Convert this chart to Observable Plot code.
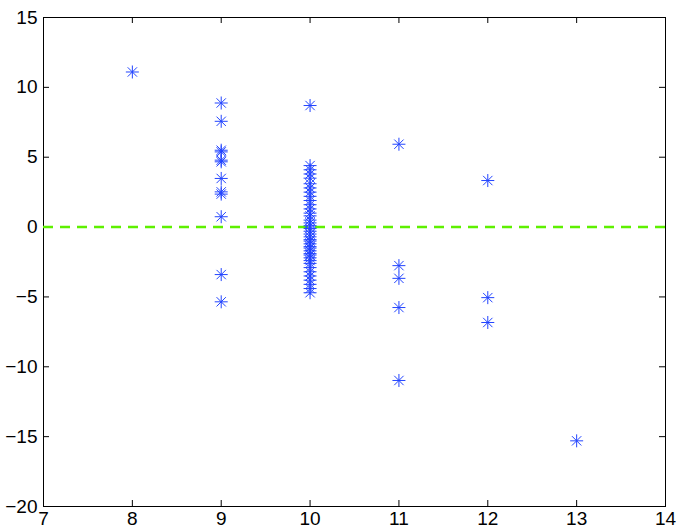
<!DOCTYPE html>
<html><head><meta charset="utf-8">
<script src="https://cdn.jsdelivr.net/npm/d3@7"></script>
<script src="https://cdn.jsdelivr.net/npm/@observablehq/plot@0.6"></script>
<style>body{margin:0;background:#fff}</style>
</head><body><div id="chart"></div>
<script>
const xs8 = [11.1];
const xs9 = [8.88, 7.57, 5.5, 5.38, 4.79, 4.67, 3.48, 2.52, 2.36, 0.74, -3.4, -5.35];
const xs10 = [8.7, 4.4, 4.1, 3.8, 3.5, 3.1, 2.8, 2.5, 2.2, 1.9, 1.6, 1.3, 1.0, 0.8, 0.5, 0.3, 0.1, -0.1, -0.3, -0.5, -0.7, -0.9, -1.0, -1.2, -1.4, -1.5, -1.7, -1.9, -2.0, -2.2, -2.4, -2.6, -2.9, -3.2, -3.5, -3.8, -4.1, -4.4, -4.7];
const xs11 = [5.93, -2.76, -3.67, -5.76, -10.98];
const xs12 = [3.33, -5.05, -6.83];
const xs13 = [-15.3];
const xTicks = [7, 8, 9, 10, 11, 12, 13, 14];
const yTicks = [-20, -15, -10, -5, 0, 5, 10, 15];

const groups = [[8, xs8], [9, xs9], [10, xs10], [11, xs11], [12, xs12], [13, xs13]];
const points = groups.flatMap(([x, vals]) => vals.map(y => ({x, y})));

const asterisk = {
  draw(context, size) {
    const r = Math.sqrt(size / Math.PI);
    const d = r * 0.72;
    context.moveTo(-r, 0); context.lineTo(r, 0);
    context.moveTo(0, -r); context.lineTo(0, r);
    context.moveTo(-d, -d); context.lineTo(d, d);
    context.moveTo(-d, d); context.lineTo(d, -d);
  }
};

const W = 681, H = 532;
const mL = 43, mR = 16, mT = 17, mB = 26;
const pxX = (W - mL - mR) / 7;
const pxY = (H - mT - mB) / 35;
const tickLen = 6;

const chart = Plot.plot({
  width: W, height: H,
  marginLeft: mL, marginRight: mR, marginTop: mT, marginBottom: mB,
  x: {domain: [7, 14]},
  y: {domain: [-20, 15]},
  style: {fontFamily: "'Liberation Sans', Arial, sans-serif", fontSize: "19px", color: "#000", background: "#fff"},
  marks: [
    Plot.axisX(xTicks, {tickSize: 0, tickPadding: 5, fontSize: 19, label: null, tickFormat: d => String(d)}),
    Plot.axisY(yTicks, {tickSize: 0, tickPadding: 6, fontSize: 19, label: null, tickFormat: d => d < 0 ? "\u2212" + Math.abs(d) : String(d)}),
    Plot.ruleX(xTicks, {x: d => d, y1: -20, y2: -20 + tickLen / pxY, stroke: "#000"}),
    Plot.ruleX(xTicks, {x: d => d, y1: 15, y2: 15 - tickLen / pxY, stroke: "#000"}),
    Plot.ruleY(yTicks, {y: d => d, x1: 7, x2: 7 + tickLen / pxX, stroke: "#000"}),
    Plot.ruleY(yTicks, {y: d => d, x1: 14, x2: 14 - tickLen / pxX, stroke: "#000"}),
    Plot.frame({stroke: "#000"}),
    Plot.ruleY([0], {stroke: "#5ef000", strokeWidth: 2.6, strokeDasharray: "10,7"}),
    Plot.dot(points, {x: "x", y: "y", symbol: asterisk, r: 6.5, stroke: "#2244ff", strokeWidth: 1, fill: "none"})
  ]
});
document.getElementById("chart").append(chart);
</script>
</body></html>
